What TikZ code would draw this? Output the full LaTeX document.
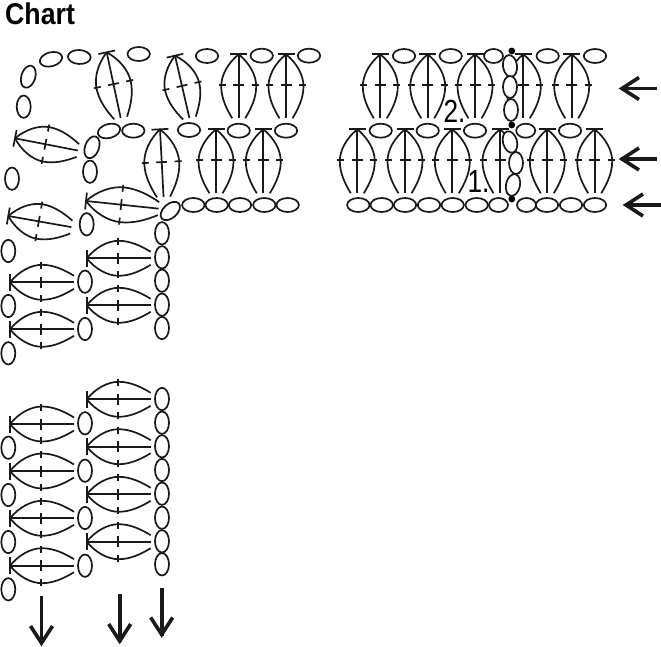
\documentclass[tikz,border=0pt]{standalone}
\usepackage{fontspec}
\setmainfont{Liberation Sans}
\tikzset{
  ink/.style={draw=black!90, line width=1.7pt},
  stitch/.pic={
    \draw[ink] (-8.5,0) -- (8.5,0);
    \draw[ink] (0,0) -- (0,64);
    \draw[ink] (0,0) .. controls (-11,9) and (-17.5,21) .. (-17.5,32) .. controls (-17.5,44) and (-12,55) .. (-6.5,64);
    \draw[ink] (0,0) .. controls (11,9) and (17.5,21) .. (17.5,32) .. controls (17.5,44) and (12,55) .. (6.5,64);
    \draw[ink] (-20,31) -- (-13,31) (-5.5,31) -- (5.5,31) (13,31) -- (20,31);
  },
  bigarrow/.pic={
    \draw[black!90, line width=3.6pt] (1,0) -- (37,0);
    \draw[black!90, line width=3.6pt, line join=miter] (19,-11) -- (2,0) -- (19,11);
  },
  longarrow/.pic={
    \draw[black!90, line width=3.6pt] (1,0) -- (49,0);
    \draw[black!90, line width=3.6pt, line join=miter] (19,-11) -- (2,0) -- (19,11);
  }
}
\newcommand{\stI}[4][1]{\pic[shift={(#2,#3)},rotate=#4,yscale=#1] {stitch};}
\newcommand{\chH}[2]{\draw[ink] (#1,#2) ellipse[x radius=11.2,y radius=7];}
\newcommand{\chS}[2]{\draw[ink] (#1,#2) ellipse[x radius=9.5,y radius=7];}
\newcommand{\chV}[2]{\draw[ink] (#1,#2) ellipse[x radius=7,y radius=11.2];}
\newcommand{\chR}[3]{\draw[ink,rotate around={#3:(#1,#2)}] (#1,#2) ellipse[x radius=11.4,y radius=7];}
\begin{document}
\begin{tikzpicture}[x=1pt,y=-1pt]
\useasboundingbox (0,0) rectangle (661,647);
\node[anchor=west,inner sep=0pt,font=\bfseries\fontsize{30}{30}\selectfont,xscale=0.89] (title) at (5,14) {Chart};
% corner block stitches
\stI[1.05]{106.7}{52.3}{12}
\stI{175}{55.7}{13}
\stI{238.7}{54.3}{0}
\stI{286}{54.3}{0}
\stI[1.06]{160}{129.3}{3}
\stI{216}{129.3}{0}
\stI{263.3}{129.3}{0}
\stI{15}{138.3}{79}
\stI[1.14]{86}{201}{84}
\stI{8.3}{216}{80}
\stI{10}{282.3}{90}
\stI{10}{329.3}{90}
\stI{86.7}{258.3}{90}
\stI{86.7}{305.3}{90}
\foreach \y in {399.3,446.7,494.3,541.7} {\stI{86.7}{\y}{90}}
\foreach \y in {424,471,518.3,565.7} {\stI{10}{\y}{90}}
% corner chains
\chR{51}{59.3}{15}
\chR{79.3}{57}{-3}
\chR{28.3}{76.7}{73}
\chV{23.7}{106.7}
\foreach \x/\y in {138.7/54,207/56,261.7/55.7,309/55.7,133.3/130.7,189/130,238.7/130.7,286/130.7,193.3/205,216.7/205,240/205,264.3/205,287.7/205} {\chH{\x}{\y}}
\chR{109}{131}{15}
\chR{92}{147.3}{70}
\chR{170.3}{211}{42}
\foreach \x/\y in {90/171.7,12/178.7,86.7/224.3,8.3/251,162/233.3,162/257.3,162/280.7,162/304.7,162/328,85/281.7,85/329,8.3/306,8.3/353.3,
  162/399,162/422.7,162/446.3,162/470,162/493.7,162/517.7,162/541.3,162/564.3,
  85/423.3,85/470.7,85/518,85/565.7,8.3/447.7,8.3/495,8.3/542,8.3/589.3} {\chV{\x}{\y}}
% right block
\foreach \x in {380.3,427.7,475,523.3,571.7} {\stI{\x}{54.3}{0}}
\foreach \x in {357.3,405,452.3,500,547.3,594.7} {\stI{\x}{129.3}{0}}
\foreach \x/\y in {404/56,450.7/56,547.7/56,595/56,380.7/130.7,427.7/130.7,475/130.7,570/130.7,
  358.3/205,381.7/205,405/205,429/205,452.7/205,476.7/205,547/205,571/205,595/205} {\chH{\x}{\y}}
\foreach \x/\y in {493.5/56,525.7/130.7,498.5/205,526.5/205} {\chS{\x}{\y}}
\foreach \x/\y/\r in {510/66/8,510/87/0,511/110/0,510/142/15,516/163/0,513/185/-12} {\draw[ink,fill=white,rotate around={\r:(\x,\y)}] (\x,\y) ellipse[x radius=7,y radius=11];}
\foreach \y in {51,125,199} {\fill (511.8,\y) circle[radius=3.4];}
\node[inner sep=0pt,font=\fontsize{32}{32}\selectfont,xscale=0.82] (two) at (454.5,111.5) {2.};
\node[inner sep=0pt,font=\fontsize{32}{32}\selectfont,xscale=0.82] (one) at (478.5,181.5) {1.};
% arrows
\pic[shift={(620,88.5)}] {bigarrow};
\pic[shift={(620,159)}] {bigarrow};
\pic[shift={(624,205)}] {bigarrow};
\pic[shift={(41.5,645)},rotate=90] {longarrow};
\pic[shift={(119.7,643)},rotate=90] {longarrow};
\pic[shift={(161.7,636.5)},rotate=90] {longarrow};
\end{tikzpicture}
\end{document}
